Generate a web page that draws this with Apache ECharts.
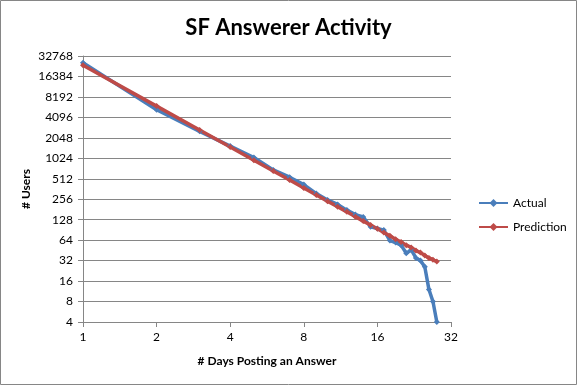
<!DOCTYPE html>
<html><head><meta charset="utf-8">
<script src="https://cdn.jsdelivr.net/npm/echarts@6/dist/echarts.min.js"></script>
<style>html,body{margin:0;padding:0;background:#fff}#c{width:577px;height:385px}</style>
</head><body><div id="c"></div>
<script>
const days = [1,2,3,4,5,6,7,8,9,10,11,12,13,14,15,16,17,18,19,20,21,22,23,24,25,26,27,28];
const actual = [26000,5300,2550,1550,1050,690,540,420,310,250,215,177,152,140,101,95,90,63,59,54,41,46,35,32,26,12,8,4];
const prediction = [24000,6000,2667,1500,960,667,490,375,296,240,198,167,142,122,107,94,83,74,66,60,54,50,45,42,38,35,33,31];
const xTicks = [1,2,4,8,16,32];
const yTicks = [4,8,16,32,64,128,256,512,1024,2048,4096,8192,16384,32768];

const font = 'Lato, "Open Sans", sans-serif';
const chart = echarts.init(document.getElementById('c'), null, {renderer:'canvas'});
chart.setOption({
  animation:false,
  title:{text:'SF Answerer Activity',left:'center',top:12,
    textStyle:{fontFamily:font,fontWeight:'bold',fontSize:22,color:'#000'}},
  graphic:[{type:'rect',shape:{x:0.5,y:0.5,width:576,height:384},style:{fill:null,stroke:'#868686',lineWidth:1},silent:true}],
  legend:{orient:'vertical',left:473,top:192,itemGap:12,itemWidth:29,itemHeight:10,
    textStyle:{fontFamily:font,fontSize:12,color:'#000'},
    data:['Actual','Prediction']},
  grid:{left:83,top:56,width:368,height:266,containLabel:false},
  xAxis:{type:'log',logBase:2,min:1,max:32,interval:1,
    name:'# Days Posting an Answer',nameLocation:'middle',nameGap:33,
    nameTextStyle:{fontFamily:font,fontWeight:'bold',fontSize:12,color:'#000'},
    axisLine:{lineStyle:{color:'#868686'}},
    axisTick:{show:true,length:5,lineStyle:{color:'#868686'}},
    minorTick:{show:false},
    axisLabel:{fontFamily:font,fontSize:12,color:'#000',margin:9,
      formatter:v=>String(Math.round(v))},
    splitLine:{show:false}},
  yAxis:{type:'log',logBase:2,min:4,max:32768,interval:1,
    name:'# Users',nameLocation:'middle',nameGap:51,nameRotate:90,nameMoveOverlap:false,
    nameTextStyle:{fontFamily:font,fontWeight:'bold',fontSize:12,color:'#000'},
    axisLine:{show:true,lineStyle:{color:'#868686'}},
    axisTick:{show:true,length:5,lineStyle:{color:'#868686'}},
    axisLabel:{fontFamily:font,fontSize:12,color:'#000',margin:10,
      formatter:v=>String(Math.round(v))},
    splitLine:{show:true,lineStyle:{color:'#868686',width:1}}},
  series:[
    {name:'Actual',type:'line',data:days.map((d,i)=>[d,actual[i]]),
     color:'#4A7EBB',lineStyle:{width:3.5,color:'#4A7EBB'},
     symbol:'diamond',symbolSize:6,itemStyle:{color:'#4A7EBB'}},
    {name:'Prediction',type:'line',data:days.map((d,i)=>[d,prediction[i]]),
     color:'#BE4B48',lineStyle:{width:3.5,color:'#BE4B48'},
     symbol:'diamond',symbolSize:6,itemStyle:{color:'#BE4B48'}}
  ]
});
</script></body></html>
